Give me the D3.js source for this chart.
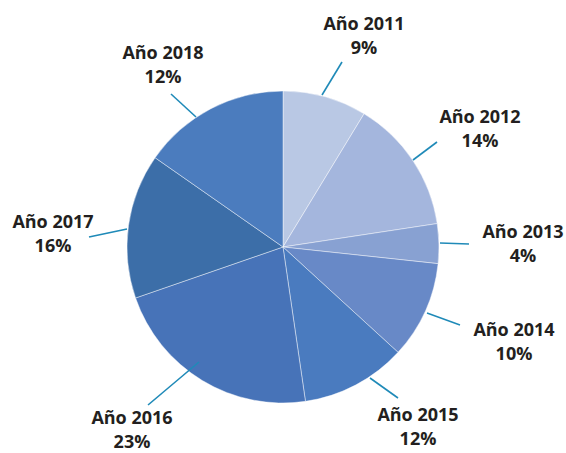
<!DOCTYPE html>
<html>
<head>
<meta charset="utf-8">
<script src="https://cdn.jsdelivr.net/npm/d3@7"></script>
<style>
  html, body { margin: 0; padding: 0; background: #ffffff; }
  svg { display: block; }
</style>
</head>
<body>
<svg id="chart" width="566" height="453"></svg>
<script>
// Data
const categories = ["Año 2011", "Año 2012", "Año 2013", "Año 2014", "Año 2015", "Año 2016", "Año 2017", "Año 2018"];
const sliceShares = [8.7, 13.9, 4.1, 10.1, 10.9, 22.0, 15.0, 15.3];  // slice sizes as drawn
const pctLabels = ["9%", "14%", "4%", "10%", "12%", "23%", "16%", "12%"];
const colors = ["#b9c8e4", "#a4b6dd", "#88a1d2", "#6889c7", "#4a7bbf", "#4773b8", "#3c6ea8", "#4b7cbe"];

// Layout
const cx = 283, cy = 247, R = 156;
const labelPos = [
  {lx: 364, ly: 30, ex: 342, ey: 62},
  {lx: 480, ly: 123, ex: 437, ey: 142},
  {lx: 523, ly: 238, ex: 469, ey: 244},
  {lx: 514, ly: 336, ex: 460, ey: 325},
  {lx: 418, ly: 421, ex: 398, ey: 398},
  {lx: 132, ly: 424, ex: 148, ey: 405},
  {lx: 53, ly: 228, ex: 89, ey: 237},
  {lx: 163, ly: 59, ex: 171, ey: 94}
];
const leaderStart = [[322,95],[413,160],[440,243],[427,313],[370,378],[199,362],[127,229],[196,117]];

const svg = d3.select("#chart");
const g = svg.append("g").attr("transform", `translate(${cx},${cy})`);

const pie = d3.pie().sort(null).value(d => d.v);
const arcs = pie(categories.map((c, i) => ({c, v: sliceShares[i], i})));
const arc = d3.arc().innerRadius(0).outerRadius(R);

g.selectAll("path.slice").data(arcs).join("path")
  .attr("class", "slice")
  .attr("d", arc)
  .attr("fill", d => colors[d.data.i])
  .attr("stroke", "rgba(255,255,255,0.55)")
  .attr("stroke-width", 0.8);

// leader lines
svg.selectAll("line.leader").data(arcs).join("line")
  .attr("class", "leader")
  .attr("x1", d => leaderStart[d.data.i][0])
  .attr("y1", d => leaderStart[d.data.i][1])
  .attr("x2", d => labelPos[d.data.i].ex)
  .attr("y2", d => labelPos[d.data.i].ey)
  .attr("stroke", "#1f8ab8")
  .attr("stroke-width", 1.6);

// labels
const lab = svg.selectAll("text.lab").data(arcs).join("text")
  .attr("class", "lab")
  .attr("text-anchor", "middle")
  .attr("font-family", "'Open Sans', 'Lato', sans-serif")
  .attr("font-weight", "bold")
  .attr("font-size", 18)
  .attr("fill", "#231f20");
lab.append("tspan")
  .attr("x", d => labelPos[d.data.i].lx)
  .attr("y", d => labelPos[d.data.i].ly)
  .text(d => d.data.c);
lab.append("tspan")
  .attr("x", d => labelPos[d.data.i].lx)
  .attr("y", d => labelPos[d.data.i].ly + 24)
  .text(d => pctLabels[d.data.i]);
</script>
</body>
</html>
